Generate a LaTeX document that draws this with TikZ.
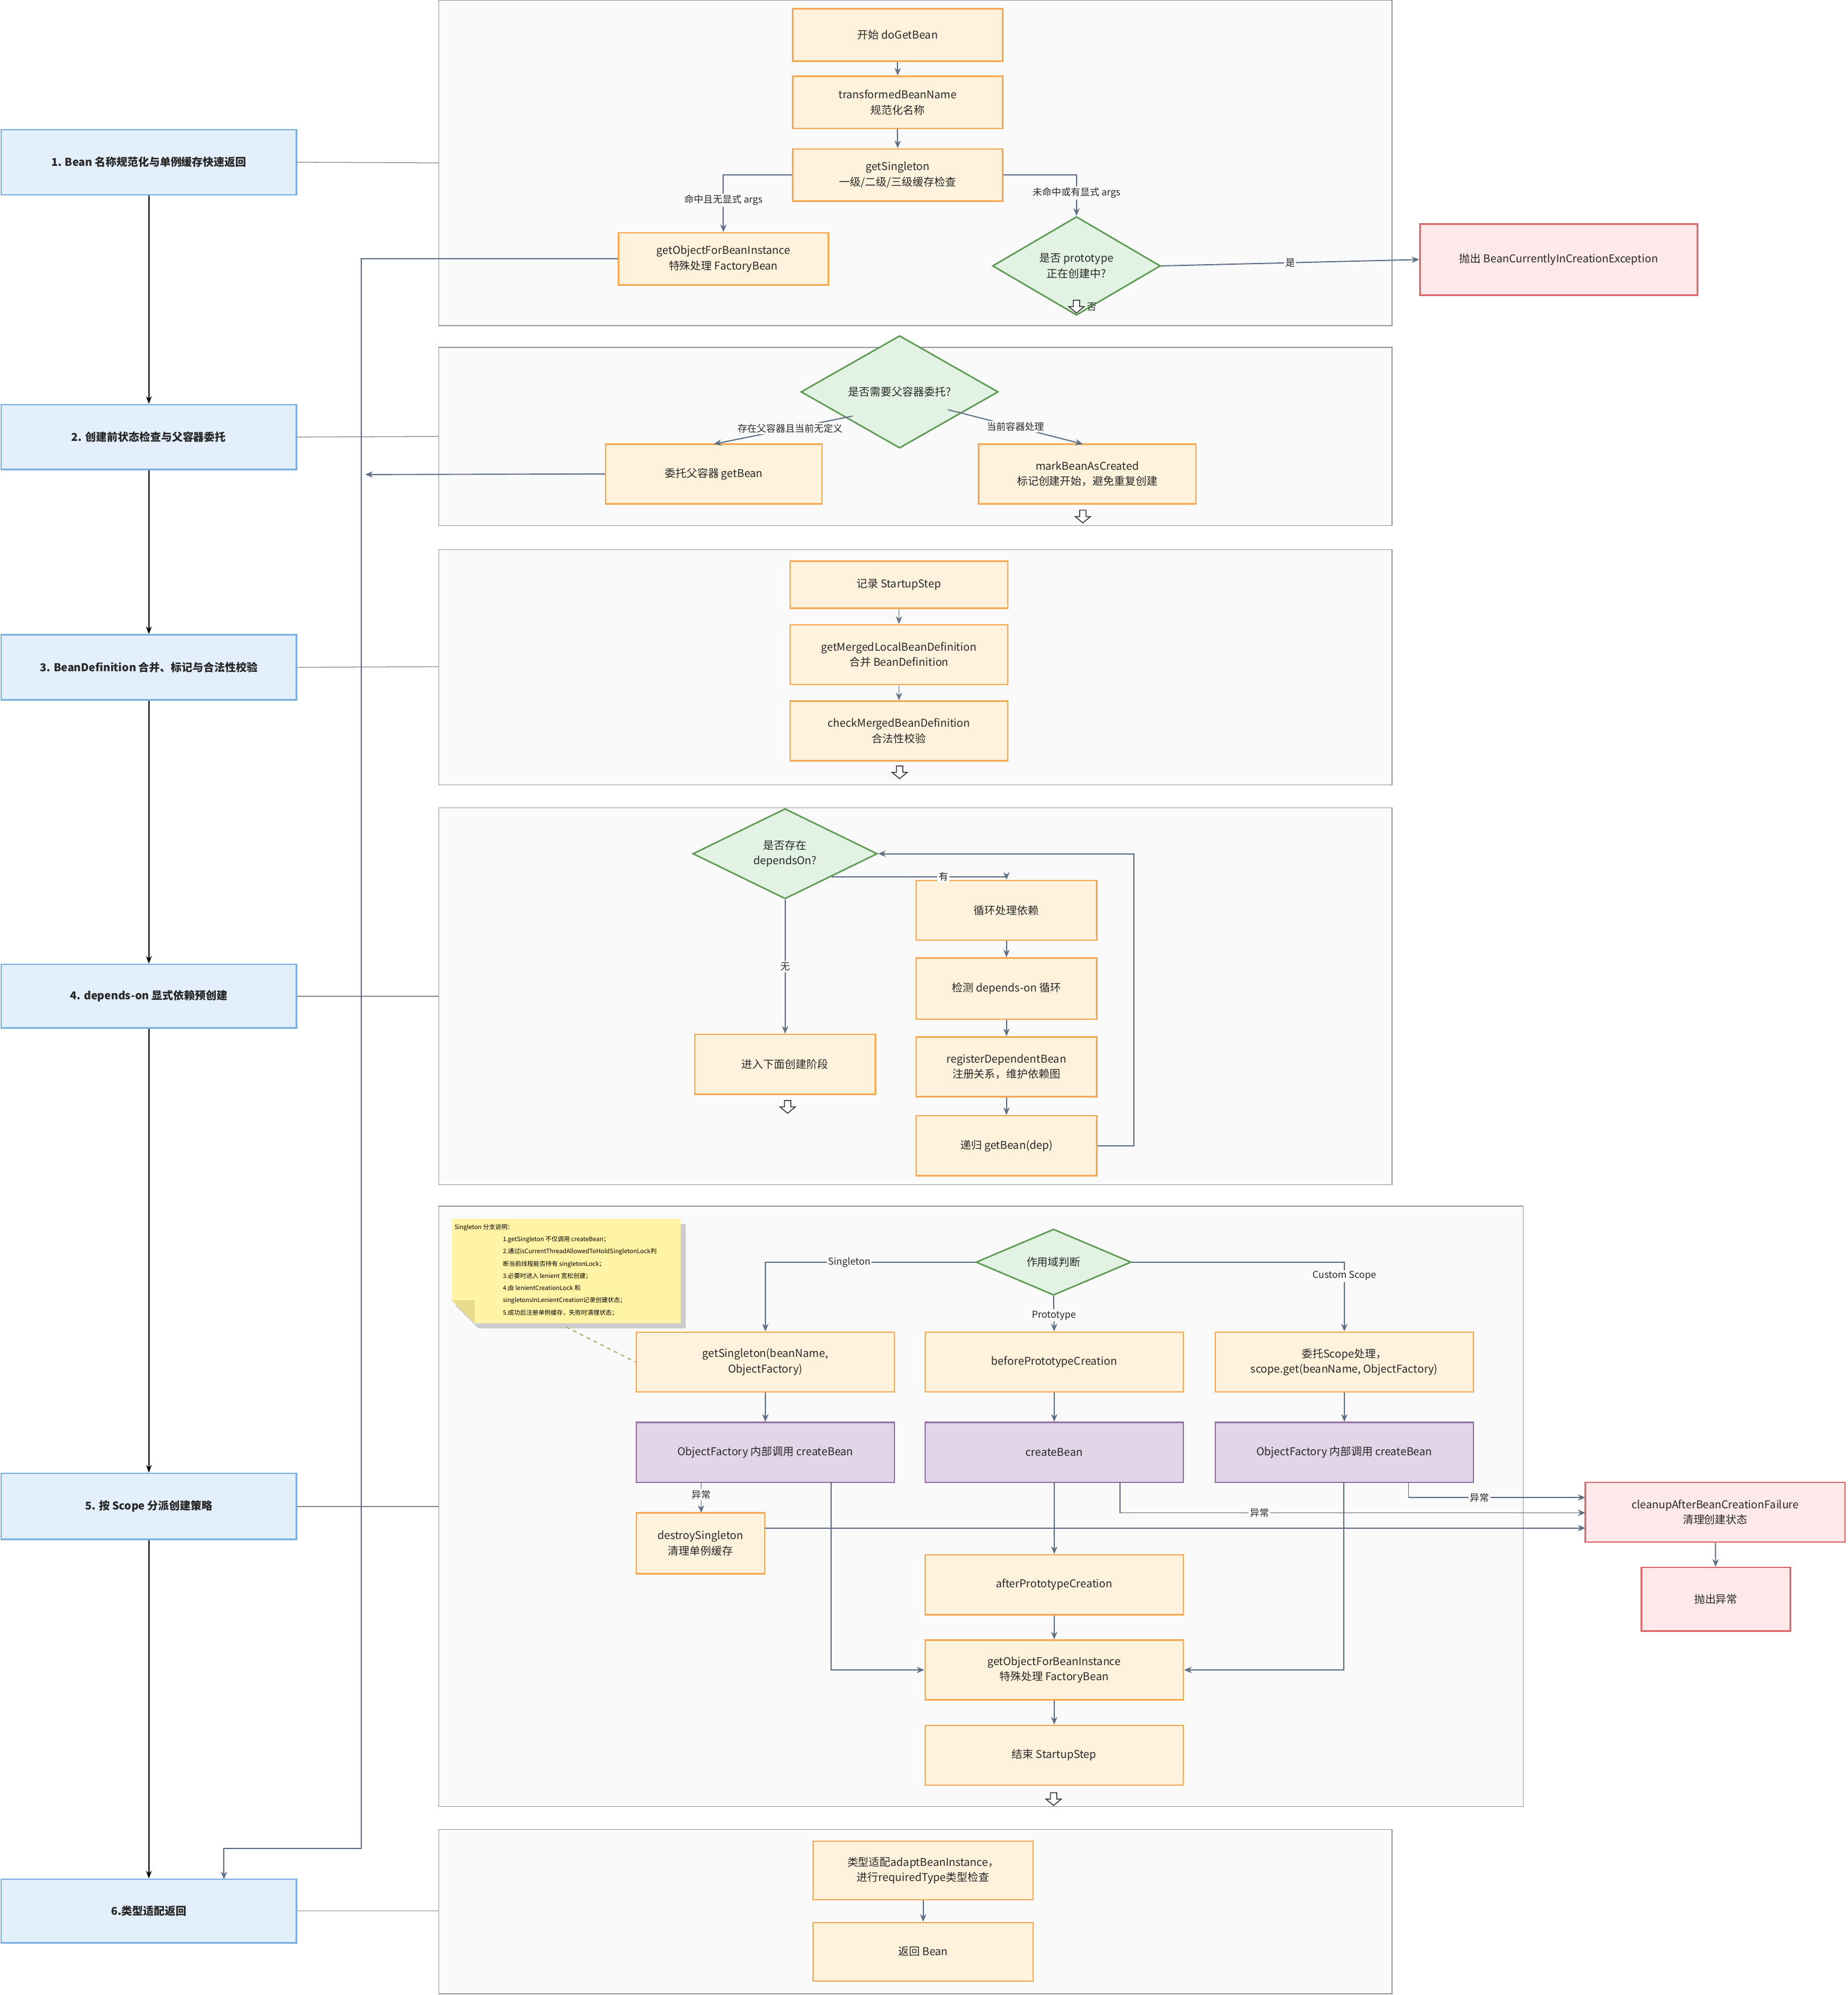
\documentclass[tikz,border=0pt]{standalone}
\usepackage{fontspec}
\setmainfont{Noto Sans CJK SC}
\usetikzlibrary{shapes.geometric,arrows.meta,calc}
\definecolor{ob}{HTML}{FFF2DC}\definecolor{obd}{HTML}{F5AA55}
\definecolor{pb}{HTML}{E1D5E7}\definecolor{pbd}{HTML}{9673A6}
\definecolor{rb}{HTML}{FDE8EA}\definecolor{rbd}{HTML}{DC6A6A}
\definecolor{gb}{HTML}{E3F3E3}\definecolor{gbd}{HTML}{5F9A55}
\definecolor{bb}{HTML}{E3F0FB}\definecolor{bbd}{HTML}{7BB0E0}
\definecolor{ed}{HTML}{5F6F86}\definecolor{pan}{HTML}{FAFAFA}
\definecolor{nt}{HTML}{FFF3A5}\definecolor{ntd}{HTML}{E8DC8A}
\newcommand\B[7]{\node[#1,minimum width={(#5-#3)*1pt},minimum height={(#6-#4)*1pt}] (#2) at ({(#3+#5)/2},{(#4+#6)/2}) {#7};}
\newcommand\Harrow[2]{\draw[fill=white,draw=black!80,line width=0.7pt,shift={(#1,#2)}] (-2.5,-5) -- (2.5,-5) -- (2.5,0) -- (6,0) -- (0,5) -- (-6,0) -- (-2.5,0) -- cycle;}
\begin{document}
\begin{tikzpicture}[x=1pt,y=-1pt,
  base/.style={draw,line width=1.2pt,inner sep=0pt,align=center,font=\fontsize{8.5}{12}\selectfont,text=black!85},
  o/.style={base,fill=ob,draw=obd},
  p/.style={base,fill=pb,draw=pbd},
  r/.style={base,fill=rb,draw=rbd},
  L/.style={base,fill=bb,draw=bbd,font=\fontsize{8.5}{12}\selectfont\bfseries},
  dm/.style={base,diamond,fill=gb,draw=gbd},
  pn/.style={fill=pan,draw=black!40,line width=0.6pt},
  e/.style={draw=ed,line width=0.9pt,-{Stealth[length=6pt,width=5pt]}},
  k/.style={draw=black,line width=0.8pt,-{Stealth[length=6pt,width=4.5pt]}},
  g/.style={draw=black!45,line width=0.6pt},
  lb/.style={fill=pan,inner sep=1pt,font=\fontsize{7.5}{9}\selectfont,text=black!85}]
\useasboundingbox[fill=white] (0,0) rectangle (1452,1568);
% panels
\draw[pn] (345,0) rectangle (1094,256);
\draw[pn] (345,273) rectangle (1094,413);
\draw[pn] (345,432) rectangle (1094,617);
\draw[pn] (345,635) rectangle (1094,931);
\draw[pn] (345,948) rectangle (1197,1420);
\draw[pn] (345,1438) rectangle (1094,1567);
% left column
\B{L}{L1}{1}{102}{233}{153}{1. Bean 名称规范化与单例缓存快速返回}
\B{L}{L2}{1}{318}{233}{369}{2. 创建前状态检查与父容器委托}
\B{L}{L3}{1}{499}{233}{550}{3. BeanDefinition 合并、标记与合法性校验}
\B{L}{L4}{1}{758}{233}{808}{4. depends-on 显式依赖预创建}
\B{L}{L5}{1}{1158}{233}{1210}{5. 按 Scope 分派创建策略}
\B{L}{L6}{1}{1477}{233}{1527}{6.类型适配返回}
\draw[k] (L1) -- (L2); \draw[k] (L2) -- (L3); \draw[k] (L3) -- (L4);
\draw[k] (L4) -- (L5); \draw[k] (L5) -- (L6);
\draw[g] (L1.east) -- (345,128); \draw[g] (L2.east) -- (345,343);
\draw[g] (L3.east) -- (345,524); \draw[g] (L4.east) -- (345,783);
\draw[g] (L5.east) -- (345,1184); \draw[g] (L6.east) -- (345,1502);
% P1
\B{o}{a1}{623}{7}{788}{48}{开始 doGetBean}
\B{o}{a2}{623}{60}{788}{101}{transformedBeanName\\规范化名称}
\B{o}{a3}{623}{117}{788}{158}{getSingleton\\一级/二级/三级缓存检查}
\B{o}{a4}{486}{183}{651}{224}{getObjectForBeanInstance\\特殊处理 FactoryBean}
\node[dm,minimum width=132pt,minimum height=46pt] (d1) at (846,209) {是否 prototype\\正在创建中?};
\B{r}{r1}{1116}{176}{1334}{232}{抛出 BeanCurrentlyInCreationException}
\draw[e] (a1) -- (a2); \draw[e] (a2) -- (a3);
\draw[e] (a3.west) -| node[lb,pos=0.72]{命中且无显式 args} (a4.north);
\draw[e] (a3.east) -| node[lb,pos=0.72]{未命中或有显式 args} (d1.north);
\draw[e] (d1.east) -- node[lb]{是} (r1.west);
\Harrow{846}{241}
\node[lb,fill=none] at (858,241) {否};
\coordinate (t6) at (176,1477);
\draw[e] (a4.west) -| (284,1453) -| (t6);
% P2
\node[dm,minimum width=155pt,minimum height=52pt] (d2) at (707,308) {是否需要父容器委托?};
\B{o}{b1}{476}{349}{646}{396}{委托父容器 getBean}
\B{o}{b2}{769}{349}{940}{396}{markBeanAsCreated\\标记创建开始，避免重复创建}
\draw[e] (670,327) -- node[lb,pos=0.45]{存在父容器且当前无定义} (561,349);
\draw[e] (745,322) -- node[lb,pos=0.5]{当前容器处理} (851,349);
\coordinate (t2) at (287,373);
\draw[e] (b1.west) -- (t2);
\Harrow{851}{406}
% P3
\B{o}{c1}{621}{441}{792}{478}{记录 StartupStep}
\B{o}{c2}{621}{491}{792}{538}{getMergedLocalBeanDefinition\\合并 BeanDefinition}
\B{o}{c3}{621}{551}{792}{598}{checkMergedBeanDefinition\\合法性校验}
\draw[e] (c1) -- (c2); \draw[e] (c2) -- (c3);
\Harrow{707}{607}
% P4
\node[dm,minimum width=145pt,minimum height=58pt] (d3) at (617,671) {是否存在\\dependsOn?};
\B{o}{e1}{720}{692}{862}{739}{循环处理依赖}
\B{o}{e2}{720}{753}{862}{801}{检测 depends-on 循环}
\B{o}{e3}{720}{815}{862}{862}{registerDependentBean\\注册关系，维护依赖图}
\B{o}{e4}{720}{877}{862}{924}{递归 getBean(dep)}
\B{o}{f1}{546}{813}{688}{860}{进入下面创建阶段}
\draw[e] (d3.south east) -| node[lb,pos=0.32]{有} (e1.north);
\draw[e] (e1) -- (e2); \draw[e] (e2) -- (e3); \draw[e] (e3) -- (e4);
\draw[e] (e4.east) -- (891,900.5) |- (d3.east);
\draw[e] (d3.south) -- node[lb]{无} (f1.north);
\Harrow{619}{870}
% P5 note
\fill[black!20] (358,962) -- (539,962) -- (539,1044) -- (376,1044) -- (358,1026) -- cycle;
\draw[fill=nt,draw=none] (355,958) -- (535,958) -- (535,1040) -- (373,1040) -- (355,1022) -- cycle;
\fill[ntd] (355,1022) -- (373,1022) -- (373,1040) -- cycle;
\node[anchor=north west,inner sep=0pt,align=left,font=\fontsize{4.8}{9.6}\selectfont] (nt) at (357,962) {Singleton 分支说明：};
\node[anchor=north west,inner sep=0pt,align=left,font=\fontsize{4.8}{9.6}\selectfont] (nt2) at (395,971.6) {1.getSingleton 不仅调用 createBean；\\2.通过isCurrentThreadAllowedToHoldSingletonLock判\\断当前线程能否持有 singletonLock；\\3.必要时进入 lenient 宽松创建；\\4.由 lenientCreationLock 和\\singletonsInLenientCreation记录创建状态；\\5.成功后注册单例缓存，失败时清理状态；};
\node[dm,minimum width=122pt,minimum height=52pt] (d4) at (828,992) {作用域判断};
\B{o}{g1}{500}{1047}{703}{1094}{getSingleton(beanName,\\ObjectFactory)}
\B{o}{g2}{727}{1047}{930}{1094}{beforePrototypeCreation}
\B{o}{g3}{955}{1047}{1158}{1094}{委托Scope处理，\\scope.get(beanName, ObjectFactory)}
\draw[dashed,draw=ntd!80!black,line width=1pt] (445,1043) -- (g1.west);
\B{p}{h1}{500}{1118}{703}{1165}{ObjectFactory 内部调用 createBean}
\B{p}{h2}{727}{1118}{930}{1165}{createBean}
\B{p}{h3}{955}{1118}{1158}{1165}{ObjectFactory 内部调用 createBean}
\B{o}{i1}{500}{1189}{601}{1237}{destroySingleton\\清理单例缓存}
\B{o}{j1}{727}{1222}{930}{1269}{afterPrototypeCreation}
\B{o}{j2}{727}{1289}{930}{1336}{getObjectForBeanInstance\\特殊处理 FactoryBean}
\B{o}{j3}{727}{1356}{930}{1403}{结束 StartupStep}
\B{r}{k1}{1246}{1165}{1450}{1212}{cleanupAfterBeanCreationFailure\\清理创建状态}
\B{r}{k2}{1290}{1232}{1407}{1282}{抛出异常}
\draw[e] (d4.west) -| node[lb,pos=0.3]{Singleton} (g1.north);
\draw[e] (d4.east) -| node[lb,pos=0.6]{Custom Scope} (g3.north);
\draw[e] (d4.south) -- node[lb,pos=0.55]{Prototype} (g2.north);
\draw[e] (g1) -- (h1); \draw[e] (g2) -- (h2); \draw[e] (g3) -- (h3);
\draw[e] (551,1165) -- node[lb,pos=0.4]{异常} (551,1189);
\draw[e] (653,1165) |- (j2.west);
\draw[e] (h2) -- (j1); \draw[e] (j1) -- (j2); \draw[e] (j2) -- (j3);
\draw[e] (1056,1165) |- (j2.east);
\draw[e] (1107,1165) |- node[lb,pos=0.7]{异常} (1246,1177);
\draw[e] (880,1165) |- node[lb,pos=0.65]{异常} (1246,1189);
\draw[e] (601,1201) -- (1246,1201);
\draw[e] (k1) -- (k2);
\Harrow{828}{1414}
% P6
\B{o}{l1}{639}{1447}{812}{1493}{类型适配adaptBeanInstance，\\进行requiredType类型检查}
\B{o}{l2}{639}{1511}{812}{1557}{返回 Bean}
\draw[e] (l1) -- (l2);
\end{tikzpicture}
\end{document}
